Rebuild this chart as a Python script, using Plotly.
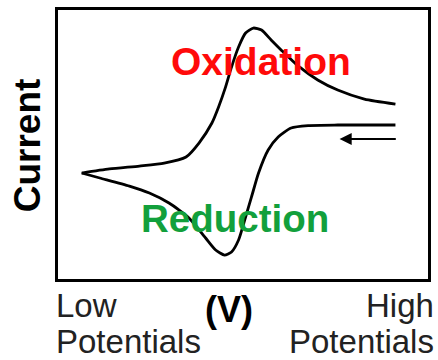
import plotly.graph_objects as go

# Cyclic voltammogram (arbitrary units: potential 0-100, current -100..100)
fwd_potential = [6.4, 13.9, 22.0, 28.7, 34.6, 38.1, 41.6, 43.4, 45.3, 46.9, 48.8, 50.7,
                 52.8, 55.0, 57.6, 60.3, 64.9, 70.2, 75.6, 82.8, 91.2]
fwd_current = [-21.2, -18.2, -16.0, -13.8, -9.3, 1.1, 16.0, 27.9, 42.8, 57.6, 72.5, 82.9,
               86.6, 85.1, 77.7, 70.3, 58.4, 48.0, 40.5, 33.8, 30.1]

rev_potential = [91.2, 75.6, 67.6, 63.0, 59.5, 56.8, 54.2, 52.3, 50.7, 48.8, 46.9, 45.0,
                 42.6, 39.9, 35.4, 30.0, 24.7, 19.3, 11.3, 6.4]
rev_current = [14.5, 14.5, 14.1, 12.3, 5.6, -4.1, -21.2, -39.0, -53.9, -71.0, -79.9, -82.2,
               -78.4, -69.5, -54.6, -43.5, -36.1, -30.9, -24.9, -21.2]

FONT = "Arial, Liberation Sans, sans-serif"

fig = go.Figure()
for xs, ys in [(fwd_potential, fwd_current), (rev_potential, rev_current)]:
    fig.add_trace(go.Scatter(x=xs, y=ys, mode="lines",
                             line=dict(color="black", width=2.8, shape="spline", smoothing=0.6),
                             hoverinfo="skip", showlegend=False))

W, H = 438, 360
L, R, T, B = 58, 7, 10, 81
pw, ph = W - L - R, H - T - B

def px(x):
    return (x - L) / pw

def py(y):
    return (H - B - y) / ph

ann = []
# scan direction arrow
ann.append(dict(x=76.1, y=4.1, ax=91.7, ay=4.1, xref="x", yref="y", axref="x", ayref="y",
                text="", showarrow=True, arrowhead=2, arrowsize=1.1, arrowwidth=2.2,
                arrowcolor="black"))
ann.append(dict(x=px(263), y=py(61), xref="paper", yref="paper", text="<b>Oxidation</b>",
                showarrow=False, font=dict(family=FONT, size=39, color="#ff0a0a"),
                xanchor="center", yanchor="middle"))
ann.append(dict(x=px(236), y=py(218), xref="paper", yref="paper", text="<b>Reduction</b>",
                showarrow=False, font=dict(family=FONT, size=38.5, color="#12a03c"),
                xanchor="center", yanchor="middle"))
ann.append(dict(x=px(27), y=py(145), xref="paper", yref="paper", text="<b>Current</b>",
                showarrow=False, font=dict(family=FONT, size=37, color="black"),
                textangle=-90, xanchor="center", yanchor="middle"))
ann.append(dict(x=px(54), y=py(305), xref="paper", yref="paper", text="Low",
                showarrow=False, font=dict(family=FONT, size=33, color="#222"),
                xanchor="left", yanchor="middle"))
ann.append(dict(x=px(54), y=py(341), xref="paper", yref="paper", text="Potentials",
                showarrow=False, font=dict(family=FONT, size=33, color="#222"),
                xanchor="left", yanchor="middle"))
ann.append(dict(x=px(439), y=py(305), xref="paper", yref="paper", text="High",
                showarrow=False, font=dict(family=FONT, size=33, color="#222"),
                xanchor="right", yanchor="middle"))
ann.append(dict(x=px(439), y=py(341), xref="paper", yref="paper", text="Potentials",
                showarrow=False, font=dict(family=FONT, size=33, color="#222"),
                xanchor="right", yanchor="middle"))
ann.append(dict(x=px(230), y=py(309), xref="paper", yref="paper", text="<b>(V)</b>",
                showarrow=False, font=dict(family=FONT, size=36, color="black"),
                xanchor="center", yanchor="middle"))

axis = dict(showline=True, mirror=True, linewidth=3, linecolor="black", showgrid=False,
            zeroline=False, showticklabels=False, ticks="")
fig.update_layout(width=W, height=H, margin=dict(l=L, r=R, t=T, b=B),
                  paper_bgcolor="white", plot_bgcolor="white",
                  xaxis=dict(range=[0, 100], **axis), yaxis=dict(range=[-100, 100], **axis),
                  annotations=ann)
fig.write_html("out.html", config={"displayModeBar": False},
               post_script="document.body.style.margin='0';document.body.style.overflow='hidden';")
